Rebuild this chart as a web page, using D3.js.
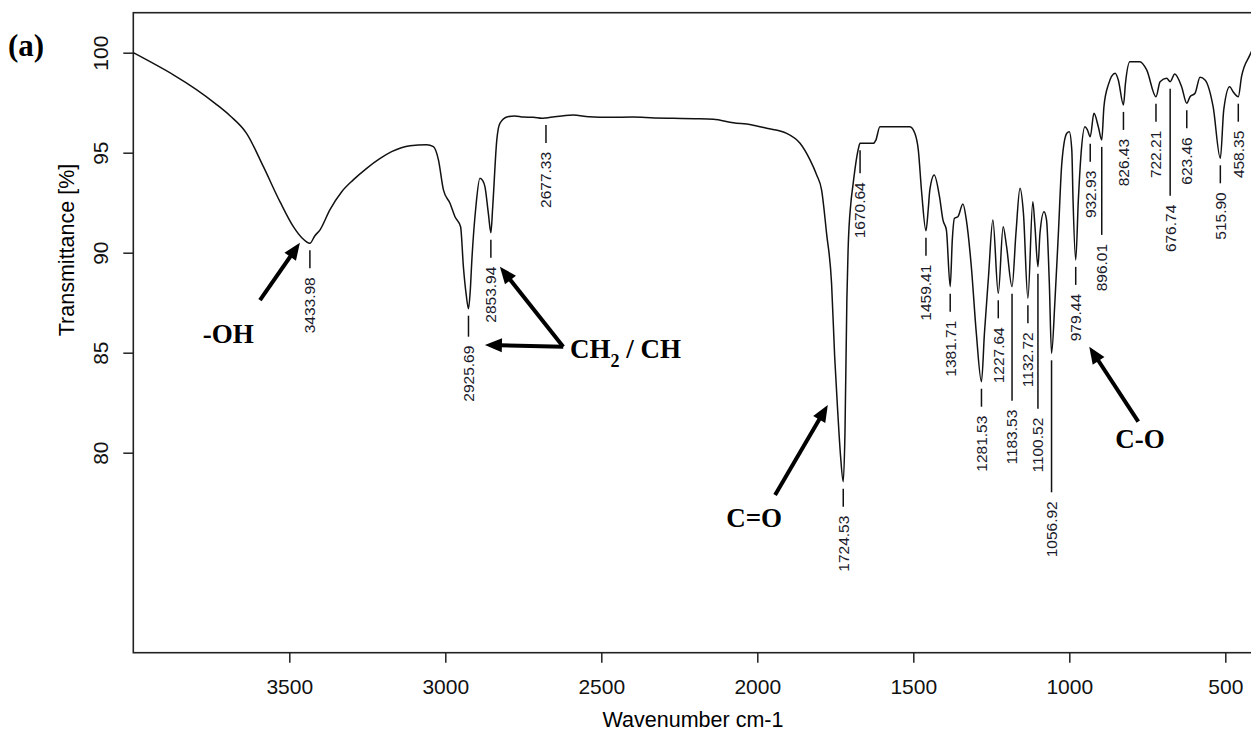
<!DOCTYPE html>
<html lang="en">
  <head>
    <meta charset="UTF-8" />
    <title>FTIR spectrum (a)</title>
    <script src="https://d3js.org/d3.v7.min.js"></script>
    <style>
      body {
        margin: 0;
        background: #fff;
      }
      .spectrum {
        fill: none;
        stroke: #111;
        stroke-width: 1.5;
      }
      .axis path,
      .axis line {
        stroke: #222;
        stroke-width: 1.5;
      }
      .axis text {
        font-family: "Liberation Sans", Arial, sans-serif;
        font-size: 21px;
        fill: #111;
      }
      .peak-label {
        font-family: "Liberation Sans", Arial, sans-serif;
        font-size: 15.5px;
        fill: #1a1a2a;
      }
      .leader {
        stroke: #111;
        stroke-width: 1.5;
      }
      .note {
        font-family: "Liberation Serif", "Times New Roman", serif;
        font-weight: bold;
        font-size: 27px;
        fill: #000;
      }
    </style>
  </head>
  <body>
    <svg id="canvas" width="1251" height="731"></svg>

    <script>
      // spectrum (wavenumber cm-1, transmittance %)
      const wavenumber = [
        4000, 3738, 3690, 3637, 3583, 3530, 3487, 3460, 3433.98, 3418, 3402,
        3370, 3332, 3295, 3252, 3210, 3172, 3113, 3060, 3038, 3022, 3006, 2985,
        2969, 2951, 2942, 2933, 2925.69, 2920, 2915, 2902, 2889, 2880, 2873,
        2862, 2853.94, 2848, 2835, 2825, 2800, 2777, 2750, 2718, 2690, 2677.33,
        2650, 2620, 2590, 2540, 2472, 2400, 2330, 2269, 2200, 2141, 2077, 2020,
        1970, 1906, 1863, 1831, 1810, 1794, 1778, 1762, 1752, 1742, 1733,
        1724.53, 1719, 1713, 1709, 1700, 1694, 1681, 1676, 1670.64, 1628, 1620,
        1607, 1560, 1511, 1495, 1484, 1473, 1459.41, 1452, 1447, 1433, 1416,
        1405, 1394, 1381.71, 1375, 1368, 1357, 1341, 1330, 1314, 1298, 1281.53,
        1272, 1259, 1245, 1227.64, 1212, 1201, 1183.53, 1171, 1158, 1147,
        1132.72, 1117, 1110, 1100.52, 1094, 1081, 1073, 1064, 1056.92, 1046,
        1035, 1024, 1008, 1000, 992, 988, 979.44, 971, 963, 950, 942, 932.93,
        921, 907, 896.01, 889, 875, 853, 843, 826.43, 820, 806, 774, 752,
        722.21, 709, 688, 676.74, 662, 640, 623.46, 613, 597, 581, 565, 539,
        515.9, 505, 486, 475, 458.35, 448, 421, 400,
      ];
      const transmittance = [
        100.0, 97.47, 96.85, 95.97, 94.3, 92.55, 91.3, 90.75, 90.47, 90.85,
        91.13, 92.14, 93.05, 93.64, 94.22, 94.7, 95.05, 95.35, 95.4, 95.3,
        94.64, 93.14, 92.47, 91.8, 91.3, 89.3, 87.9, 87.2, 88.1, 89.6, 92.3,
        93.72, 93.6, 93.3, 91.97, 91.0, 92.3, 95.63, 96.47, 96.8, 96.84, 96.78,
        96.77, 96.72, 96.74, 96.8, 96.85, 96.88, 96.8, 96.77, 96.78, 96.74,
        96.72, 96.7, 96.67, 96.5, 96.4, 96.22, 95.97, 95.47, 94.64, 93.9, 93.14,
        90.97, 88.47, 84.8, 82.0, 79.8, 78.55, 81.0, 87.6, 90.14, 92.5, 93.3,
        94.8, 95.2, 95.47, 95.47, 95.63, 96.3, 96.3, 96.3, 95.97, 95.14, 92.97,
        91.1, 92.2, 93.14, 93.89, 92.8, 91.64, 91.14, 88.3, 90.64, 91.72, 91.8,
        92.43, 91.64, 89.3, 85.97, 83.55, 85.97, 88.8, 91.64, 87.97, 91.3, 90.3,
        88.3, 90.97, 93.22, 91.97, 87.72, 92.55, 91.3, 89.3, 90.97, 92.05, 91.64,
        88.47, 84.97, 87.6, 90.97, 94.47, 95.97, 96.05, 95.14, 92.64, 89.64,
        92.64, 94.8, 96.3, 96.14, 95.8, 96.97, 96.3, 95.64, 97.3, 98.39, 98.97,
        98.64, 97.39, 98.47, 99.55, 99.55, 99.14, 97.8, 98.55, 98.72, 98.55,
        98.94, 98.3, 97.47, 97.8, 97.97, 98.77, 98.64, 97.3, 94.72, 97.14, 98.3,
        98.05, 97.8, 98.8, 99.89, 100.6,
      ];

      // picked peaks
      const peakLabels = [
        "3433.98", "2925.69", "2853.94", "2677.33", "1724.53", "1670.64",
        "1459.41", "1381.71", "1281.53", "1227.64", "1183.53", "1132.72",
        "1100.52", "1056.92", "979.44", "932.93", "896.01", "826.43", "722.21",
        "676.74", "623.46", "515.90", "458.35",
      ];

      const xTicks = [3500, 3000, 2500, 2000, 1500, 1000, 500];
      const yTicks = [80, 85, 90, 95, 100];

      // band assignments with arrows (tail -> tip, in data units)
      const noteText = ["-OH", "CH2 / CH", "C=O", "C-O"];
      const noteAt = [[3696, 85.47], [2600, 84.74], [2010, 76.3], [773, 80.22]];
      const arrowFrom = [[3594, 87.63], [2622, 85.3], [2622, 85.3], [1943, 77.88], [779, 81.55]];
      const arrowTo = [[3466, 90.5], [2825, 89.3], [2873, 85.39], [1774, 82.39], [936, 85.3]];

      // layout
      const plotLeft = 133.3, plotTop = 12.7, plotBottom = 652.7, plotRight = 1256.5;
      const leaderGap = 7, leaderLen = 18, labelGap = 9;
      const longLeader = {
        "2925.69": 21, "1670.64": 23, "1183.53": 107, "1100.52": 135,
        "1056.92": 132, "896.01": 88, "676.74": 107,
      };

      const svg = d3.select("#canvas");

      const x = d3.scaleLinear().domain([4000, 400]).range([plotLeft, plotRight]);
      const y = d3.scaleLinear().domain([70, 102]).range([plotBottom, plotTop]);

      // frame
      svg
        .append("rect")
        .attr("x", plotLeft)
        .attr("y", plotTop)
        .attr("width", plotRight - plotLeft + 20)
        .attr("height", plotBottom - plotTop)
        .attr("fill", "none")
        .attr("stroke", "#222")
        .attr("stroke-width", 1.6);

      // x axis
      const xAxis = svg
        .append("g")
        .attr("class", "axis")
        .attr("transform", `translate(0,${plotBottom})`)
        .call(
          d3
            .axisBottom(x)
            .tickValues(xTicks)
            .tickFormat(d3.format("d"))
            .tickSize(10)
            .tickPadding(16)
            .tickSizeOuter(0)
        );
      xAxis.select(".domain").remove();

      // y axis, rotated labels
      const yAxis = svg
        .append("g")
        .attr("class", "axis")
        .attr("transform", `translate(${plotLeft},0)`)
        .call(d3.axisLeft(y).tickValues(yTicks).tickFormat(d3.format("d")).tickSize(10).tickSizeOuter(0));
      yAxis.select(".domain").remove();
      yAxis
        .selectAll(".tick text")
        .attr("transform", "rotate(-90)")
        .attr("x", 0)
        .attr("y", -25.5)
        .attr("dy", 0)
        .attr("text-anchor", "middle");

      svg
        .append("text")
        .attr("x", 693)
        .attr("y", 726.5)
        .attr("text-anchor", "middle")
        .style("font-family", "'Liberation Sans', Arial, sans-serif")
        .style("font-size", "21.5px")
        .text("Wavenumber cm-1");

      svg
        .append("text")
        .attr("transform", "translate(74,250) rotate(-90)")
        .attr("text-anchor", "middle")
        .style("font-family", "'Liberation Sans', Arial, sans-serif")
        .style("font-size", "21.5px")
        .text("Transmittance [%]");

      // spectrum
      const points = wavenumber.map((w, i) => [w, transmittance[i]]);
      const line = d3
        .line()
        .x((d) => x(d[0]))
        .y((d) => y(d[1]))
        .curve(d3.curveMonotoneX);
      svg.append("path").datum(points).attr("class", "spectrum").attr("d", line);

      // peak leaders and labels
      const peaks = peakLabels.map((lab) => {
        const w = +lab;
        const i = wavenumber.findIndex((v) => Math.abs(v - w) < 0.01);
        const len = longLeader[lab] || leaderLen;
        const y0 = y(transmittance[i]) + leaderGap;
        return { lab, px: x(w), y0, y1: y0 + len };
      });

      svg
        .selectAll(".leader")
        .data(peaks)
        .enter()
        .append("line")
        .attr("class", "leader")
        .attr("x1", (d) => d.px)
        .attr("x2", (d) => d.px)
        .attr("y1", (d) => d.y0)
        .attr("y2", (d) => d.y1);

      svg
        .selectAll(".peak-label")
        .data(peaks)
        .enter()
        .append("text")
        .attr("class", "peak-label")
        .attr("transform", (d) => `translate(${d.px},${d.y1 + labelGap}) rotate(-90)`)
        .attr("text-anchor", "end")
        .attr("dy", "0.35em")
        .text((d) => d.lab);

      // arrows
      arrowFrom.forEach((from, i) => {
        const x0 = x(from[0]), y0 = y(from[1]);
        const x1 = x(arrowTo[i][0]), y1 = y(arrowTo[i][1]);
        const dx = x1 - x0, dy = y1 - y0;
        const n = Math.hypot(dx, dy);
        const ux = dx / n, uy = dy / n;
        const head = 17, half = 7;
        const bx = x1 - ux * head, by = y1 - uy * head;
        svg
          .append("line")
          .attr("x1", x0)
          .attr("y1", y0)
          .attr("x2", bx + ux * 2)
          .attr("y2", by + uy * 2)
          .attr("stroke", "#000")
          .attr("stroke-width", 4);
        svg
          .append("polygon")
          .attr(
            "points",
            [
              [x1, y1],
              [bx - uy * half, by + ux * half],
              [bx + uy * half, by - ux * half],
            ].join(" ")
          )
          .attr("fill", "#000");
      });

      // notes
      svg
        .append("text")
        .attr("class", "note")
        .attr("x", 8)
        .attr("y", 56)
        .style("font-size", "31px")
        .text("(a)");

      noteText.forEach((t, i) => {
        const tx = svg
          .append("text")
          .attr("class", "note")
          .attr("x", x(noteAt[i][0]))
          .attr("y", y(noteAt[i][1]))
          .attr("text-anchor", i === 1 ? "start" : "middle");
        if (t === "CH2 / CH") {
          tx.append("tspan").text("CH");
          tx.append("tspan").attr("dy", 9).style("font-size", "18px").text("2");
          tx.append("tspan").attr("dy", -9).text(" / CH");
        } else {
          tx.text(t);
        }
      });
    </script>
  </body>
</html>
